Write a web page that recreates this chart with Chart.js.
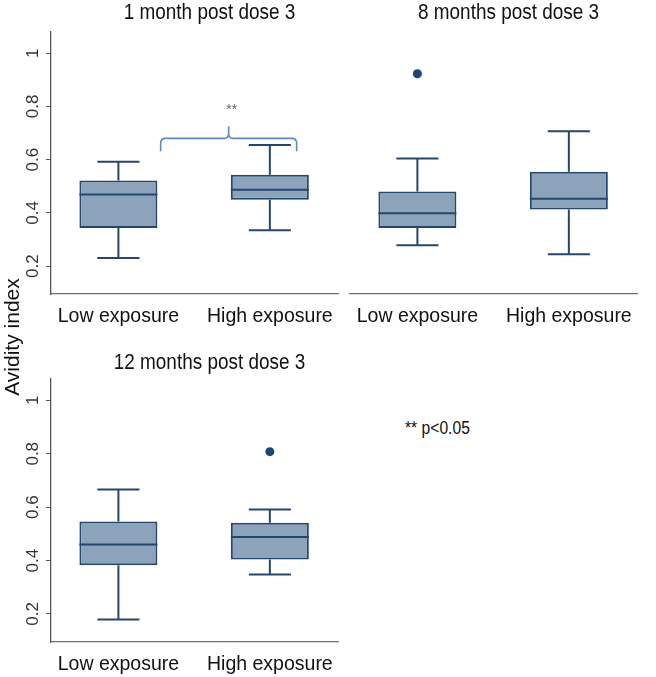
<!DOCTYPE html>
<html>
<head>
<meta charset="utf-8">
<script src="https://cdn.jsdelivr.net/npm/chart.js@4.4.0/dist/chart.umd.min.js"></script>
<style>
  html, body { margin: 0; padding: 0; background: #fff; overflow: hidden; }
  #wrap { position: relative; width: 656px; height: 677px; }
  canvas { position: absolute; }
  .ytitle {
    position: absolute; left: -48px; top: 325px; width: 120px; text-align: center;
    font: 21px 'Liberation Sans', Arial, sans-serif; color: #111;
    transform: rotate(-90deg); white-space: nowrap;
  }
  .note {
    position: absolute; left: 405px; top: 418px;
    font: 18px 'Liberation Sans', Arial, sans-serif; color: #111;
    transform: scaleX(0.87); transform-origin: left center;
    white-space: nowrap;
  }
</style>
</head>
<body>
<div id="wrap">
  <canvas id="c1" width="360" height="330" style="left:0;top:0"></canvas>
  <canvas id="c2" width="316" height="330" style="left:340px;top:0"></canvas>
  <canvas id="c3" width="360" height="347" style="left:0;top:330px"></canvas>
  <div class="ytitle">Avidity index</div>
  <div class="note">** p&lt;0.05</div>
</div>
<script>
// data, one entry per panel: [low exposure, high exposure]
const groups = ['Low exposure', 'High exposure'];
const panelTitles = ['1 month post dose 3', '8 months post dose 3', '12 months post dose 3'];
const whiskerLow  = [[0.230, 0.335], [0.278, 0.244], [0.179, 0.348]];
const q1          = [[0.343, 0.449], [0.343, 0.413], [0.382, 0.404]];
const median      = [[0.469, 0.487], [0.399, 0.453], [0.460, 0.488]];
const q3          = [[0.522, 0.543], [0.480, 0.555], [0.546, 0.542]];
const whiskerHigh = [[0.592, 0.655], [0.604, 0.707], [0.666, 0.591]];
const outlierX    = [[], [1], [2]];
const outlierY    = [[], [0.923], [0.808]];
const yTicks = [0.2, 0.4, 0.6, 0.8, 1];

// significance brace in panel 1 (data coordinates)
const braceX = [1.279, 1.728, 2.177];
const braceY = [0.632, 0.680, 0.725];
const braceLabel = '**';

const boxFill = '#8da3bb';
const boxLine = '#25476b';
const plain = "'Liberation Sans', Arial, sans-serif";

// whiskers, caps, medians and the panel title
const boxPlot = {
  id: 'boxPlot',
  afterDatasetsDraw(chart, args, opts) {
    const p = opts.panel;
    const ctx = chart.ctx;
    const ys = chart.scales.y;
    const meta = chart.getDatasetMeta(0);
    ctx.save();
    ctx.strokeStyle = boxLine;
    ctx.lineWidth = 2;
    meta.data.forEach((bar, i) => {
      const half = bar.width / 2;
      const cap = bar.width * 0.27;
      const yHi = ys.getPixelForValue(whiskerHigh[p][i]);
      const yLo = ys.getPixelForValue(whiskerLow[p][i]);
      const yQ3 = ys.getPixelForValue(q3[p][i]);
      const yQ1 = ys.getPixelForValue(q1[p][i]);
      const yMed = ys.getPixelForValue(median[p][i]);
      ctx.beginPath();
      ctx.moveTo(bar.x, yQ3); ctx.lineTo(bar.x, yHi);
      ctx.moveTo(bar.x - cap, yHi); ctx.lineTo(bar.x + cap, yHi);
      ctx.moveTo(bar.x, yQ1); ctx.lineTo(bar.x, yLo);
      ctx.moveTo(bar.x - cap, yLo); ctx.lineTo(bar.x + cap, yLo);
      ctx.moveTo(bar.x - half, yMed); ctx.lineTo(bar.x + half, yMed);
      ctx.stroke();
    });
    ctx.restore();
  },
  afterDraw(chart, args, opts) {
    const ctx = chart.ctx;
    const area = chart.chartArea;
    ctx.save();
    ctx.fillStyle = '#111';
    ctx.font = '22px ' + plain;
    ctx.textAlign = 'center';
    ctx.textBaseline = 'middle';
    // narrow look of the original title face
    ctx.translate((area.left + area.right) / 2 + 15, opts.titleY);
    ctx.scale(0.86, 1);
    ctx.fillText(panelTitles[opts.panel], 0, 0);
    ctx.restore();
  }
};

const brace = {
  id: 'brace',
  afterDatasetsDraw(chart, args, opts) {
    if (!opts.show) return;
    const ctx = chart.ctx;
    const xs = chart.scales.x, ys = chart.scales.y;
    const xl = xs.getPixelForValue(braceX[0]);
    const xm = xs.getPixelForValue(braceX[1]);
    const xr = xs.getPixelForValue(braceX[2]);
    const yb = ys.getPixelForValue(braceY[0]);
    const yl = ys.getPixelForValue(braceY[1]);
    const yp = ys.getPixelForValue(braceY[2]);
    const r = 5;
    ctx.save();
    ctx.strokeStyle = '#5b89c4';
    ctx.lineWidth = 1.6;
    ctx.beginPath();
    ctx.moveTo(xl, yb);
    ctx.lineTo(xl, yl + r);
    ctx.quadraticCurveTo(xl, yl, xl + r, yl);
    ctx.lineTo(xm - r, yl);
    ctx.quadraticCurveTo(xm, yl, xm, yl - r);
    ctx.lineTo(xm, yp);
    ctx.moveTo(xm, yl - r);
    ctx.quadraticCurveTo(xm, yl, xm + r, yl);
    ctx.lineTo(xr - r, yl);
    ctx.quadraticCurveTo(xr, yl, xr, yl + r);
    ctx.lineTo(xr, yb);
    ctx.stroke();
    ctx.fillStyle = '#666';
    ctx.font = '14px ' + plain;
    ctx.textAlign = 'center';
    ctx.textBaseline = 'middle';
    ctx.fillText(braceLabel, xm + 3, ys.getPixelForValue(0.785));
    ctx.restore();
  }
};

function makePanel(id, p, cfg) {
  const boxes = groups.map((g, i) => ({ x: i + 1, y: [q1[p][i], q3[p][i]] }));
  const outs = outlierX[p].map((x, i) => ({ x: x, y: outlierY[p][i] }));
  return new Chart(document.getElementById(id), {
    type: 'bar',
    data: {
      datasets: [{
        data: boxes,
        backgroundColor: boxFill,
        borderColor: boxLine,
        borderWidth: 2,
        borderSkipped: false,
        categoryPercentage: 1,
        barPercentage: 0.515
      }, {
        type: 'scatter',
        data: outs,
        pointRadius: 4.5,
        pointBackgroundColor: '#1c4673',
        pointBorderWidth: 0
      }]
    },
    options: {
      responsive: false,
      animation: false,
      layout: { padding: cfg.padding },
      plugins: {
        legend: { display: false },
        tooltip: { enabled: false },
        boxPlot: { panel: p, titleY: cfg.titleY },
        brace: { show: p === 0 }
      },
      scales: {
        x: {
          type: 'linear',
          offset: false,
          min: 0.555,
          max: 2.45,
          afterBuildTicks: s => { s.ticks = groups.map((g, i) => ({ value: i + 1 })); },
          afterFit: s => { s.height = cfg.xHeight; },
          ticks: {
            autoSkip: false,
            maxRotation: 0,
            padding: 11,
            color: '#111',
            font: { family: plain, size: 19.5 },
            callback: v => groups[v - 1]
          },
          grid: { display: false, offset: false, drawTicks: false, tickLength: 0 },
          border: { display: true, color: '#707070', width: 1.3 }
        },
        y: {
          display: cfg.showY,
          min: 0.095,
          max: 1.08,
          afterBuildTicks: s => { s.ticks = yTicks.map(v => ({ value: v })); },
          afterFit: s => { s.width = cfg.showY ? 51 : 0; },
          ticks: {
            minRotation: 90,
            maxRotation: 90,
            crossAlign: 'center',
            padding: 1,
            color: '#333',
            font: { family: plain, size: 17 },
            callback: v => String(v)
          },
          grid: { drawOnChartArea: false, drawTicks: true, tickLength: 5, color: '#555' },
          border: { display: true, color: '#555', width: 1.3 }
        }
      }
    },
    plugins: [boxPlot, brace]
  });
}

makePanel('c1', 0, { showY: true, padding: { top: 32, right: 22, left: 0, bottom: 0 }, xHeight: 36, titleY: 13 });
makePanel('c2', 1, { showY: false, padding: { top: 32, right: 19, left: 10, bottom: 0 }, xHeight: 36, titleY: 13 });
makePanel('c3', 2, { showY: true, padding: { top: 49, right: 22, left: 0, bottom: 0 }, xHeight: 35, titleY: 33 });
</script>
</body>
</html>
